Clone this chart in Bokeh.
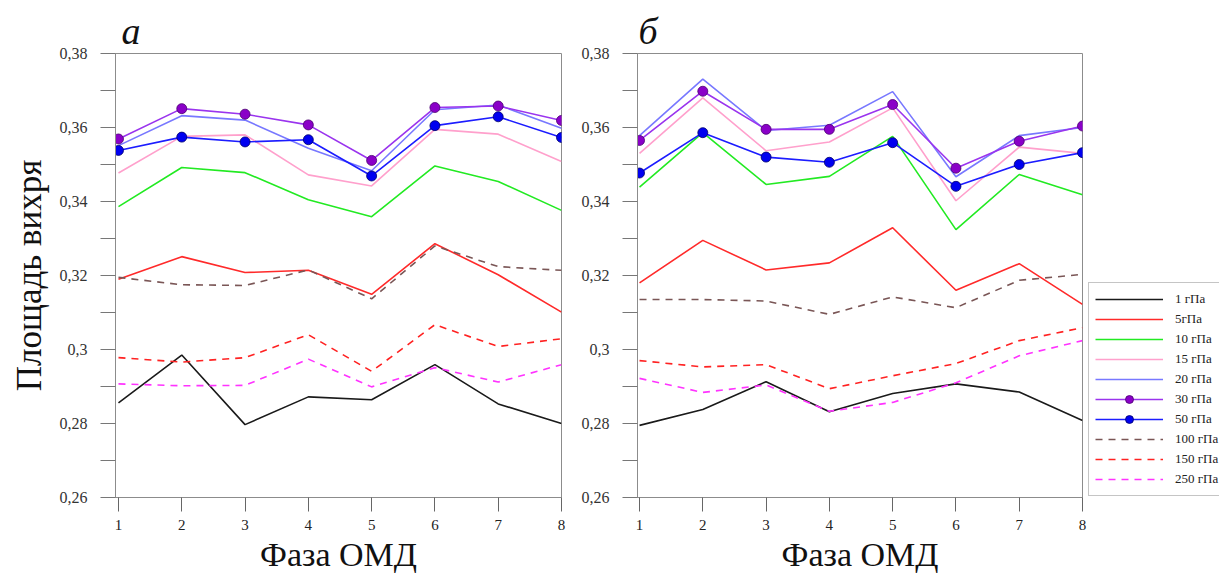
from bokeh.plotting import figure
from bokeh.layouts import row
from bokeh.models import Range1d, FixedTicker, Legend, LegendItem
from bokeh.embed import file_html
from bokeh.resources import INLINE

# ---------------- data ----------------
phases = [1, 2, 3, 4, 5, 6, 7, 8]
series_labels = ["1 гПа", "5гПа", "10 гПа", "15 гПа", "20 гПа",
                 "30 гПа", "50 гПа", "100 гПа", "150 гПа", "250 гПа"]
y_ticks = [0.26, 0.28, 0.30, 0.32, 0.34, 0.36, 0.38]
y_tick_labels = ["0,26", "0,28", "0,3", "0,32", "0,34", "0,36", "0,38"]
y_minor = [0.27, 0.29, 0.31, 0.33, 0.35, 0.37]
x_title = "Фаза ОМД"
y_title = "Площадь вихря"
panel_a_title = "а"
panel_b_title = "б"

a_1 = [0.2856, 0.2985, 0.2797, 0.2872, 0.2864, 0.2959, 0.2853, 0.2800]
a_5 = [0.3190, 0.3251, 0.3208, 0.3214, 0.3149, 0.3286, 0.3202, 0.3101]
a_10 = [0.3386, 0.3492, 0.3478, 0.3405, 0.3359, 0.3496, 0.3454, 0.3376]
a_15 = [0.3477, 0.3576, 0.3580, 0.3472, 0.3442, 0.3595, 0.3582, 0.3508]
a_20 = [0.3551, 0.3632, 0.3620, 0.3544, 0.3483, 0.3648, 0.3661, 0.3598]
a_30 = [0.3569, 0.3651, 0.3636, 0.3607, 0.3511, 0.3654, 0.3658, 0.3619]
a_50 = [0.3538, 0.3574, 0.3561, 0.3567, 0.3469, 0.3605, 0.3629, 0.3573]
a_100 = [0.3195, 0.3175, 0.3173, 0.3215, 0.3137, 0.3280, 0.3224, 0.3214]
a_150 = [0.2978, 0.2966, 0.2978, 0.3040, 0.2941, 0.3067, 0.3008, 0.3029]
a_250 = [0.2907, 0.2902, 0.2903, 0.2974, 0.2899, 0.2951, 0.2912, 0.2959]

b_1 = [0.2795, 0.2838, 0.2913, 0.2832, 0.2881, 0.2907, 0.2885, 0.2808]
b_5 = [0.3180, 0.3295, 0.3215, 0.3234, 0.3329, 0.3160, 0.3232, 0.3122]
b_10 = [0.3439, 0.3586, 0.3446, 0.3468, 0.3576, 0.3324, 0.3473, 0.3418]
b_15 = [0.3530, 0.3680, 0.3537, 0.3561, 0.3653, 0.3402, 0.3547, 0.3530]
b_20 = [0.3578, 0.3731, 0.3592, 0.3606, 0.3697, 0.3467, 0.3578, 0.3600]
b_30 = [0.3565, 0.3698, 0.3595, 0.3595, 0.3662, 0.3490, 0.3563, 0.3604]
b_50 = [0.3477, 0.3586, 0.3520, 0.3506, 0.3559, 0.3441, 0.3500, 0.3532]
b_100 = [0.3135, 0.3135, 0.3131, 0.3095, 0.3142, 0.3113, 0.3187, 0.3203]
b_150 = [0.2970, 0.2953, 0.2959, 0.2894, 0.2929, 0.2962, 0.3024, 0.3059]
b_250 = [0.2922, 0.2884, 0.2904, 0.2833, 0.2857, 0.2910, 0.2983, 0.3024]

panel_a = [a_1, a_5, a_10, a_15, a_20, a_30, a_50, a_100, a_150, a_250]
panel_b = [b_1, b_5, b_10, b_15, b_20, b_30, b_50, b_100, b_150, b_250]

# ---------------- styles ----------------
line_colors = ["#1a1a1a", "#ff2a2a", "#22ea22", "#ffa0cc", "#7878ff",
               "#9a34ee", "#1c1cff", "#7a5656", "#ff2222", "#ff33ff"]
line_dashes = ["solid"] * 7 + ["7 6"] * 3
marker_fill = [None] * 5 + ["#8a00c8", "#0000f0"] + [None] * 3
marker_line = [None] * 5 + ["#4a0070", "#00006a"] + [None] * 3
FONT = "Liberation Serif"
H = 577
TOP = 53
BOTTOM = 80


def draw_series(p, xs, ys, i):
    rs = [p.line(xs, ys, line_color=line_colors[i], line_width=1.6,
                 line_dash=line_dashes[i])]
    if marker_fill[i] is not None:
        rs.append(p.scatter(xs, ys, size=10, marker="circle",
                            fill_color=marker_fill[i],
                            line_color=marker_line[i], line_width=0.8))
    return rs


def make_panel(data, title, title_offset, x_start, width, lr, ylabel):
    p = figure(width=width, height=H, output_backend="svg",
               toolbar_location=None,
               x_range=Range1d(x_start, 8.0), y_range=Range1d(0.26, 0.38),
               min_border_left=lr[0], min_border_right=lr[1],
               min_border_top=TOP, min_border_bottom=BOTTOM)
    p.xgrid.visible = False
    p.ygrid.visible = False
    p.outline_line_color = "#8c8c8c"
    p.outline_line_width = 1
    p.background_fill_color = "white"
    p.border_fill_color = "white"

    p.title.text = title
    p.title.text_font = FONT
    p.title.text_font_size = "38px"
    p.title.text_font_style = "italic"
    p.title.text_color = "#111111"
    p.title.offset = title_offset
    p.title.standoff = 3

    yax = p.yaxis[0]
    yax.ticker = FixedTicker(ticks=y_ticks, minor_ticks=y_minor)
    yax.major_label_overrides = {t: s for t, s in zip(y_ticks, y_tick_labels)}
    yax.major_tick_out = 15
    yax.major_tick_in = 0
    yax.minor_tick_out = 15
    yax.minor_tick_in = 0
    yax.axis_line_color = "#8c8c8c"
    yax.major_tick_line_color = "#777777"
    yax.minor_tick_line_color = "#777777"
    yax.major_label_text_font = FONT
    yax.major_label_text_font_size = "16px"
    yax.major_label_text_color = "#333333"
    yax.major_label_standoff = 13
    if ylabel:
        yax.axis_label = y_title
        yax.axis_label_text_font = FONT
        yax.axis_label_text_font_size = "35px"
        yax.axis_label_text_font_style = "normal"
        yax.axis_label_text_color = "#111111"
        yax.axis_label_standoff = 8

    xax = p.xaxis[0]
    xax.ticker = FixedTicker(ticks=phases, minor_ticks=[])
    xax.major_tick_out = 14
    xax.major_tick_in = 0
    xax.axis_line_color = "#8c8c8c"
    xax.major_tick_line_color = "#666666"
    xax.major_label_text_font = FONT
    xax.major_label_text_font_size = "15px"
    xax.major_label_text_color = "#222222"
    xax.major_label_standoff = 8
    xax.axis_label = x_title
    xax.axis_label_text_font = FONT
    xax.axis_label_text_font_size = "34px"
    xax.axis_label_text_font_style = "normal"
    xax.axis_label_text_color = "#111111"
    xax.axis_label_standoff = 3

    for i, ys in enumerate(data):
        draw_series(p, phases, ys, i)
    return p


p1 = make_panel(panel_a, panel_a_title, 6, 0.953, 575, (115, 14), True)
p2 = make_panel(panel_b, panel_b_title, 1, 0.968, 513, (62, 6), False)

# legend panel: the series are drawn outside its visible range, only the key shows
p3 = figure(width=131, height=H, output_backend="svg", toolbar_location=None,
            x_axis_type=None, y_axis_type=None,
            x_range=Range1d(-20, -10), y_range=Range1d(-20, -10),
            min_border_left=0, min_border_right=0,
            min_border_top=TOP, min_border_bottom=BOTTOM)
p3.outline_line_color = None
p3.border_fill_color = "white"
p3.background_fill_color = "white"
items = []
for i, ys in enumerate(panel_b):
    items.append(LegendItem(label=series_labels[i],
                            renderers=draw_series(p3, phases, ys, i)))

legend = Legend(items=items, location=(0, 1), margin=0, padding=6,
                spacing=0, glyph_width=68, glyph_height=20, label_height=14,
                label_standoff=12, label_text_font=FONT,
                label_text_font_size="13px", label_text_color="#222222",
                border_line_color="#8c8c8c", border_line_width=1,
                background_fill_color="white", background_fill_alpha=1.0)
p3.add_layout(legend, "center")

layout = row(p1, p2, p3)

with open("out.html", "w") as f:
    f.write(file_html(layout, INLINE))
